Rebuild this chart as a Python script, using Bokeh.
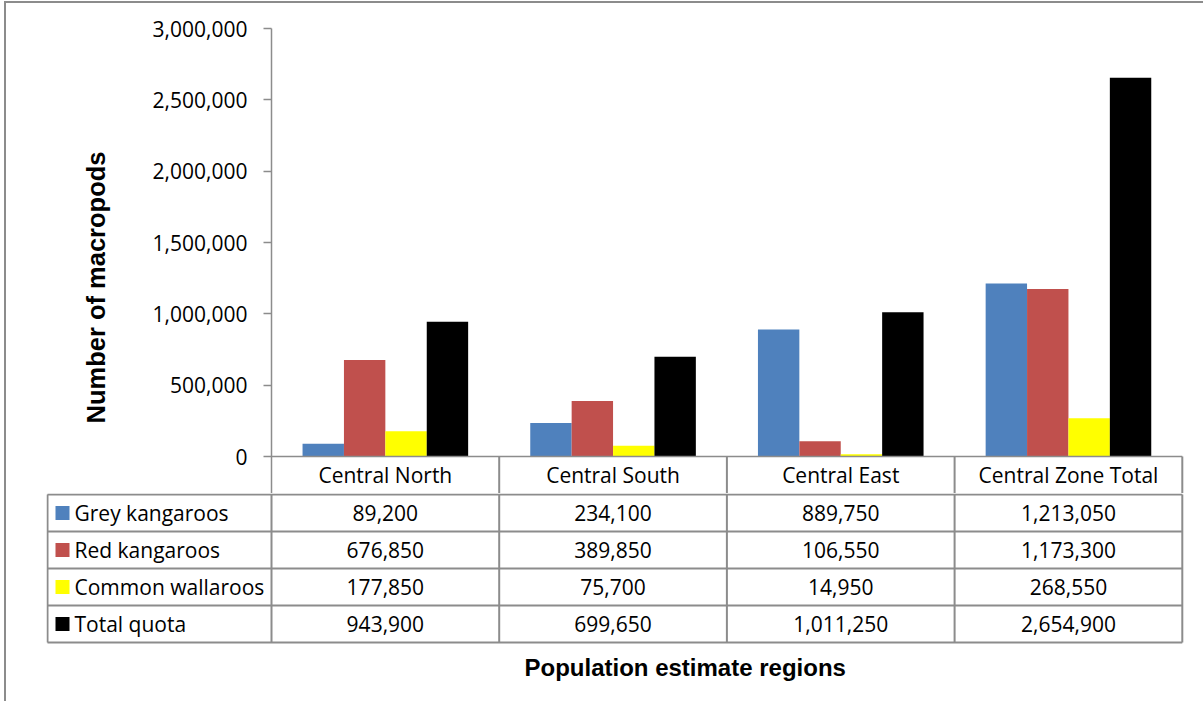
import numpy as np
from bokeh.plotting import figure
from bokeh.layouts import column
from bokeh.models import ColumnDataSource, Range1d, FixedTicker, NumeralTickFormatter, Title
from bokeh.transform import dodge
from bokeh.core.properties import value
from bokeh.embed import file_html
from bokeh.resources import INLINE

# ---- data -------------------------------------------------------------
regions = ["Central North", "Central South", "Central East", "Central Zone Total"]
series_names = ["Grey kangaroos", "Red kangaroos", "Common wallaroos", "Total quota"]
grey_kangaroos = [89200, 234100, 889750, 1213050]
red_kangaroos = [676850, 389850, 106550, 1173300]
common_wallaroos = [177850, 75700, 14950, 268550]
total_quota = [943900, 699650, 1011250, 2654900]
series_colors = ["#4F81BD", "#C0504D", "#FFFF00", "#000000"]
y_ticks = [0, 500000, 1000000, 1500000, 2000000, 2500000, 3000000]

series_values = [grey_kangaroos, red_kangaroos, common_wallaroos, total_quota]

# ---- page geometry (pixels) -----------------------------------------------
ORIGIN_X, ORIGIN_Y = 6, 3          # where the figures start inside the framed box
PAGE_W, PAGE_H = 1203, 701
PLOT_LEFT, PLOT_RIGHT = 271, 1184  # value-axis line and right edge of frames
CAT_W = 227.7                      # pixels per region column
Y_TOP, Y_ZERO = 28, 456            # pixel rows of 3,000,000 and 0
HEADER_BOTTOM = 493                # bottom of the region-name row
TABLE_LEFT = 47
ROW_H = 37
TABLE_BOTTOM = HEADER_BOTTOM + 1 + 4 * ROW_H
GRID = "#8c8c8c"
FONT = "Open Sans"

W = PAGE_W - ORIGIN_X
H_TOP = HEADER_BOTTOM - ORIGIN_Y
H_BOT = PAGE_H - HEADER_BOTTOM

px_per_val = (Y_ZERO - Y_TOP) / y_ticks[-1]
x_end = (PLOT_RIGHT - PLOT_LEFT) / CAT_W

def to_x(page_x):
    return (page_x - PLOT_LEFT) / CAT_W

def fmt(v):
    return f"{v:,}"

n = len(regions)
centers = np.arange(n) + 0.5
src = ColumnDataSource(dict(
    xc=centers,
    grey=grey_kangaroos,
    red=red_kangaroos,
    wall=common_wallaroos,
    total=total_quota,
))

# ---- chart ------------------------------------------------------------------
p = figure(
    width=W, height=H_TOP,
    x_range=Range1d(0, x_end),
    y_range=Range1d(-(HEADER_BOTTOM - Y_ZERO) / px_per_val, y_ticks[-1]),
    x_axis_type=None,
    toolbar_location=None, output_backend="svg",
    min_border_left=PLOT_LEFT - ORIGIN_X,
    min_border_right=PAGE_W - PLOT_RIGHT,
    min_border_top=Y_TOP - ORIGIN_Y,
    min_border_bottom=0,
    outline_line_color=None,
    background_fill_color="white", border_fill_color="white",
)
p.grid.visible = False

ax = p.yaxis[0]
ax.ticker = FixedTicker(ticks=y_ticks)
ax.formatter = NumeralTickFormatter(format="0,0")
ax.minor_tick_line_color = None
ax.major_tick_in = 0
ax.major_tick_out = 8
ax.major_tick_line_color = GRID
ax.axis_line_color = GRID
ax.axis_line_width = 1.5
ax.major_tick_line_width = 1.5
ax.major_label_standoff = 16
ax.major_label_text_font = FONT
ax.major_label_text_font_size = "21px"
ax.major_label_text_color = "black"

bar_w = 1 / (4 + 1.5)
cols = ["grey", "red", "wall", "total"]
for k, (col, color) in enumerate(zip(cols, series_colors)):
    off = (k - 1.5) * bar_w
    p.vbar(x=dodge("xc", off, range=p.x_range), top=col, bottom=0, width=bar_w,
           source=src, fill_color=color, line_color=None)

# category axis line and region-name cells
p.segment(x0=[0], y0=[0], x1=[n], y1=[0], line_color=GRID, line_width=1.5)
y_hdr_bottom = p.y_range.start
p.segment(x0=list(range(1, n + 1)), y0=[y_hdr_bottom] * n,
          x1=list(range(1, n + 1)), y1=[0] * n, line_color=GRID, line_width=2)
p.text(x=centers, y=[-(HEADER_BOTTOM - Y_ZERO) / 2 / px_per_val] * n, text=regions,
       text_font=value(FONT), text_font_size=value("21px"), text_color="black",
       text_align="center", text_baseline="middle")

yt = Title(text="Number of macropods", align="left", offset=70,
           text_font="Liberation Sans", text_font_style="bold",
           text_font_size="25.5px", text_color="black", standoff=79)
p.add_layout(yt, "left")

# ---- data table ---------------------------------------------------------
bot_frame_h = TABLE_BOTTOM + 2 - HEADER_BOTTOM
t = figure(
    width=W, height=H_BOT,
    x_range=Range1d(to_x(TABLE_LEFT - 1), x_end),
    y_range=Range1d(-(bot_frame_h - 1 - 4 * ROW_H) / ROW_H, 4 + 1 / ROW_H),
    x_axis_type=None, y_axis_type=None,
    toolbar_location=None, output_backend="svg",
    min_border_left=TABLE_LEFT - 1 - ORIGIN_X,
    min_border_right=PAGE_W - PLOT_RIGHT,
    min_border_top=0,
    min_border_bottom=H_BOT - bot_frame_h,
    outline_line_color=None,
    background_fill_color="white", border_fill_color="white",
)
t.grid.visible = False

x_left = to_x(TABLE_LEFT)
rows = len(series_names)
# horizontal rules
t.segment(x0=[x_left] * (rows + 1), y0=list(range(rows + 1)),
          x1=[n] * (rows + 1), y1=list(range(rows + 1)), line_color=GRID, line_width=2)
# vertical rules
vx = [x_left] + list(range(n + 1))
t.segment(x0=vx, y0=[0] * len(vx), x1=vx, y1=[rows] * len(vx), line_color=GRID, line_width=2)

row_y = [rows - 0.5 - k for k in range(rows)]
t.rect(x=[to_x(62)] * rows, y=row_y, width=14, height=14,
       width_units="screen", height_units="screen",
       fill_color=series_colors, line_color=None)
t.text(x=[to_x(74)] * rows, y=row_y, text=series_names,
       text_font=value(FONT), text_font_size=value("21px"), text_color="black",
       text_align="left", text_baseline="middle")

cell_x, cell_y, cell_t = [], [], []
for k, vals in enumerate(series_values):
    for i, v in enumerate(vals):
        cell_x.append(centers[i])
        cell_y.append(row_y[k])
        cell_t.append(fmt(v))
t.text(x=cell_x, y=cell_y, text=cell_t,
       text_font=value(FONT), text_font_size=value("21px"), text_color="black",
       text_align="center", text_baseline="middle")

xt = Title(text="Population estimate regions", align="left", offset=525 - TABLE_LEFT,
           text_font="Liberation Sans", text_font_style="bold",
           text_font_size="24px", text_color="black", standoff=14)
t.add_layout(xt, "below")

# the two panels are separate roots so their frames keep their own widths
top_box = column(p, spacing=0, styles={
    "border-left": f"2px solid {GRID}",
    "border-top": f"2px solid {GRID}",
    "margin-left": "4px",
    "margin-top": "1px",
})
bottom_box = column(t, spacing=0, styles={
    "border-left": f"2px solid {GRID}",
    "margin-left": "4px",
})

open("out.html", "w").write(file_html([top_box, bottom_box], INLINE))
